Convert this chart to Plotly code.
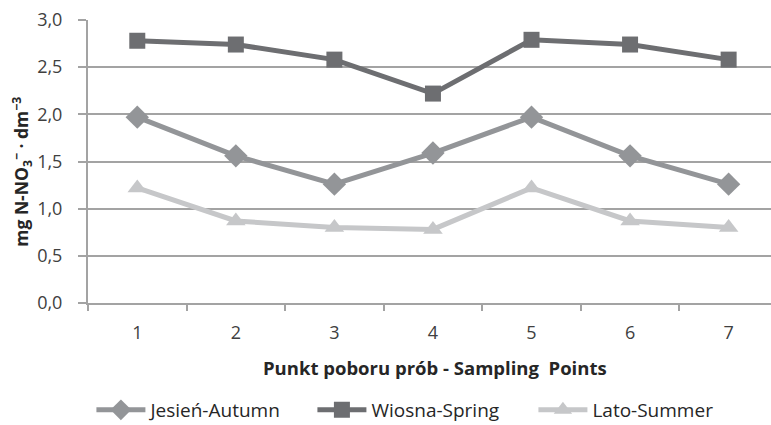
import plotly.graph_objects as go

# Sampling points and nitrate concentrations (mg N-NO3- per dm3) per season
points = ["1", "2", "3", "4", "5", "6", "7"]
autumn = [1.97, 1.56, 1.26, 1.59, 1.97, 1.56, 1.26]
spring = [2.78, 2.74, 2.58, 2.22, 2.79, 2.74, 2.58]
summer = [1.22, 0.87, 0.80, 0.78, 1.22, 0.87, 0.80]

series = [
    ("Jesień-Autumn", autumn, "#939598", "diamond", 18),
    ("Wiosna-Spring", spring, "#6d6e71", "square", 16),
    ("Lato-Summer", summer, "#c6c7c9", "triangle-up", 17),
]

fig = go.Figure()
for name, vals, color, symbol, msize in series:
    fig.add_trace(go.Scatter(
        x=points, y=vals, name=name, mode="lines+markers",
        line=dict(color=color, width=5),
        marker=dict(symbol=symbol, size=msize, color=color),
    ))

grid = "#a3a3a3"
font = "'Open Sans', sans-serif"

fig.update_layout(
    width=771, height=425,
    margin=dict(l=88, r=0, t=20, b=122, autoexpand=False),
    paper_bgcolor="white", plot_bgcolor="white",
    separators=", ",
    font=dict(family=font, size=18, color="#404040"),
    showlegend=True,
    legend=dict(orientation="h", x=0.005, xanchor="left", y=-0.378, yanchor="middle",
                font=dict(size=19, color="#262626"), itemwidth=49,
                entrywidth=157, entrywidthmode="pixels"),
    annotations=[
        dict(text="<b>mg N-NO<sub>3</sub><sup>−</sup> · dm<sup>−3</sup></b>",
             xref="paper", yref="paper", x=-0.097, y=0.463,
             xanchor="center", yanchor="middle", textangle=-90, showarrow=False,
             font=dict(size=17.5, color="#262626")),
        dict(text="<b>Punkt poboru prób - Sampling&nbsp; Points</b>",
             xref="paper", yref="paper", x=0.508, y=-0.229,
             xanchor="center", yanchor="middle", showarrow=False,
             font=dict(size=18.5, color="#262626")),
    ],
)

fig.update_xaxes(
    type="category", range=[-0.5, 6.43],
    tickson="boundaries", ticks="outside", ticklen=6, tickwidth=2, tickcolor=grid,
    showline=True, linecolor=grid, linewidth=2, showgrid=False,
    tickfont=dict(size=18), ticklabelstandoff=12,
)
fig.update_yaxes(
    range=[0, 3], dtick=0.5, tickformat=".1f",
    ticks="outside", ticklen=8, tickwidth=2, tickcolor=grid,
    showline=True, linecolor=grid, linewidth=2,
    showgrid=True, gridcolor=grid, gridwidth=2, zeroline=False,
    tickfont=dict(size=18), ticklabelstandoff=12,
)

fig.write_html("out.html")
